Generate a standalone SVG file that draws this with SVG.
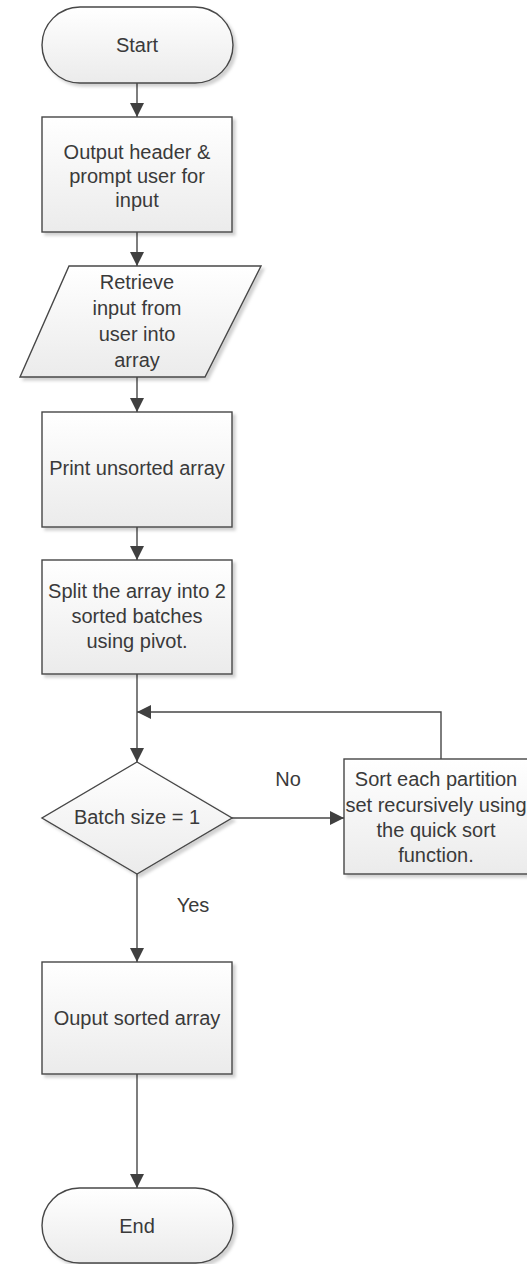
<svg xmlns="http://www.w3.org/2000/svg" width="527" height="1264" viewBox="0 0 527 1264">
<style>
.shape{fill:url(#g);stroke:#474747;stroke-width:1.4;filter:url(#sh)}
.t{font-family:"Liberation Sans",Arial,sans-serif;font-size:20px;fill:#3a3a3a;text-anchor:middle}
.c{fill:none;stroke:#474747;stroke-width:1.4}
</style>
<defs>
<linearGradient id="g" x1="0" y1="0" x2="0" y2="1">
<stop offset="0" stop-color="#ffffff"/>
<stop offset="1" stop-color="#ebebeb"/>
</linearGradient>
<filter id="sh" x="-10%" y="-10%" width="130%" height="130%">
<feDropShadow dx="3" dy="3" stdDeviation="1.5" flood-color="#000" flood-opacity="0.18"/>
</filter>
<marker id="ah" viewBox="0 0 14 14" refX="14" refY="7" markerWidth="14" markerHeight="14" markerUnits="userSpaceOnUse" orient="auto">
<path d="M0,0 L14,7 L0,14 Z" fill="#404040"/>
</marker>
</defs>
<g id="connectors">
<path class="c" d="M137,83 V117" marker-end="url(#ah)"/>
<path class="c" d="M137,232 V266" marker-end="url(#ah)"/>
<path class="c" d="M137,377 V412" marker-end="url(#ah)"/>
<path class="c" d="M137,527 V560" marker-end="url(#ah)"/>
<path class="c" d="M137,674 V762" marker-end="url(#ah)"/>
<path class="c" d="M232,818 H344" marker-end="url(#ah)"/>
<path class="c" d="M441,759 V712 H137" marker-end="url(#ah)"/>
<path class="c" d="M137,874 V962" marker-end="url(#ah)"/>
<path class="c" d="M137,1074 V1188" marker-end="url(#ah)"/>
<text class="t" x="288" y="786">No</text>
<text class="t" x="193" y="912">Yes</text>
</g>
<g id="start">
<rect class="shape" x="42" y="7" width="191" height="76" rx="38" ry="38"/>
<text class="t" x="137" y="52">Start</text>
</g>
<g id="output-header">
<rect class="shape" x="42" y="117" width="190" height="115"/>
<text class="t" x="137" y="159">Output header &amp;</text>
<text class="t" x="137" y="183">prompt user for</text>
<text class="t" x="137" y="207">input</text>
</g>
<g id="retrieve-input">
<polygon class="shape" points="69,266 261,266 205,377 20,377"/>
<text class="t" x="137" y="289">Retrieve</text>
<text class="t" x="137" y="315">input from</text>
<text class="t" x="137" y="341">user into</text>
<text class="t" x="137" y="367">array</text>
</g>
<g id="print-unsorted">
<rect class="shape" x="42" y="412" width="190" height="115"/>
<text class="t" x="137" y="475">Print unsorted array</text>
</g>
<g id="split">
<rect class="shape" x="42" y="560" width="190" height="114"/>
<text class="t" x="137" y="598">Split the array into 2</text>
<text class="t" x="137" y="623">sorted batches</text>
<text class="t" x="137" y="648">using pivot.</text>
</g>
<g id="decision">
<polygon class="shape" points="137,762 232,818 137,874 42,818"/>
<text class="t" x="137" y="824">Batch size = 1</text>
</g>
<g id="sort-partition">
<rect class="shape" x="344" y="759" width="184" height="115"/>
<text class="t" x="436" y="786">Sort each partition</text>
<text class="t" x="436" y="812">set recursively using</text>
<text class="t" x="436" y="837">the quick sort</text>
<text class="t" x="436" y="862">function.</text>
</g>
<g id="output-sorted">
<rect class="shape" x="42" y="962" width="190" height="112"/>
<text class="t" x="137" y="1025">Ouput sorted array</text>
</g>
<g id="end">
<rect class="shape" x="42" y="1188" width="191" height="75" rx="37.5" ry="37.5"/>
<text class="t" x="137" y="1233">End</text>
</g>
</svg>
